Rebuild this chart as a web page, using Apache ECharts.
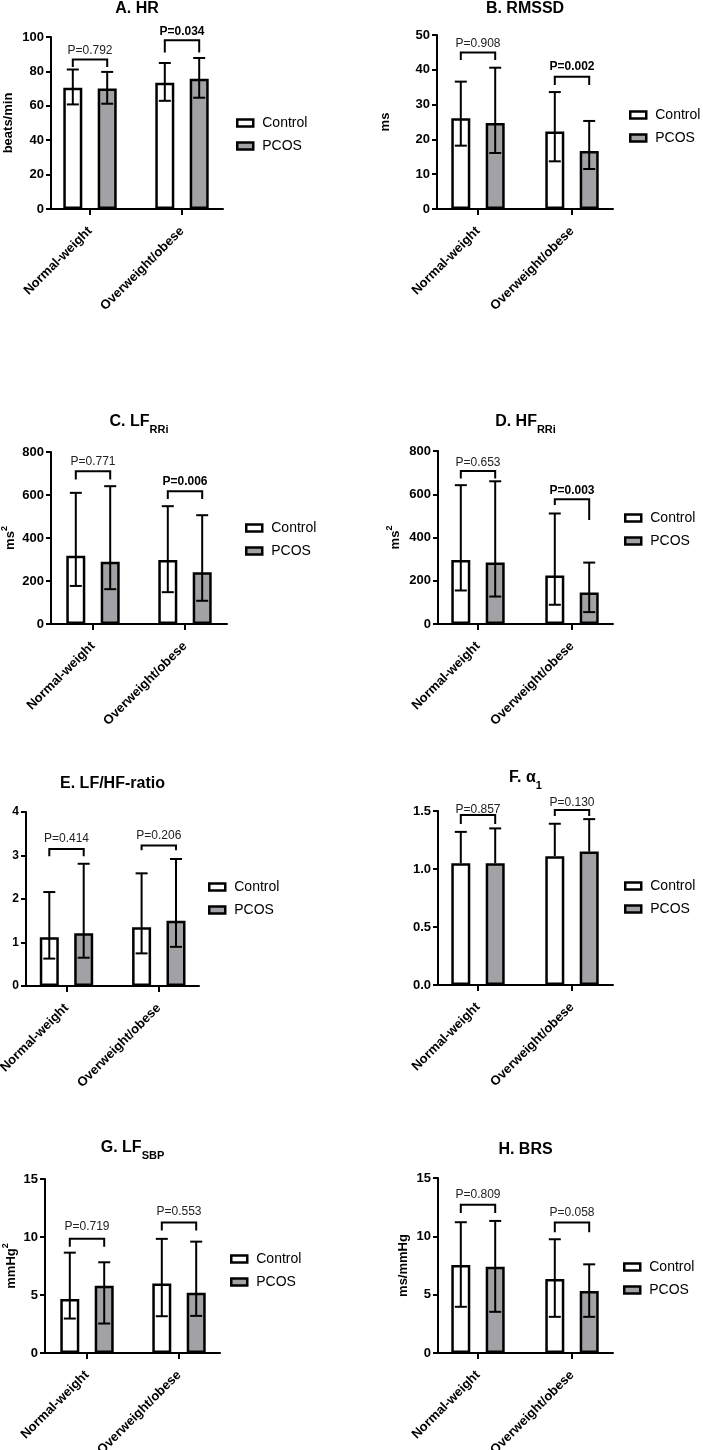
<!DOCTYPE html>
<html><head><meta charset="utf-8">
<script src="https://cdn.jsdelivr.net/npm/echarts@6/dist/echarts.min.js"></script>
<style>html,body{margin:0;padding:0;background:#fff}#c{width:703px;height:1450px}</style>
</head><body><div id="c"></div>
<script>
// ---------------- DATA ----------------
const categories = ['Normal-weight', 'Overweight/obese'];
const seriesNames = ['Control', 'PCOS'];
const panelTitles = ['{m|A. HR}', '{m|B. RMSSD}', '{m|C. LF}{s|RRi}', '{m|D. HF}{s|RRi}',
                     '{m|E. LF/HF-ratio}', '{m|F. α}{s|1}', '{m|G. LF}{s|SBP}', '{m|H. BRS}'];
const yAxisNames = ['beats/min', 'ms', '{b|ms}{p|2}', '{b|ms}{p|2}', '', '', '{b|mmHg}{p|2}', 'ms/mmHg'];
const yMax = [100, 50, 800, 800, 4, 1.5, 15, 15];
const yInterval = [20, 10, 200, 200, 1, 0.5, 5, 5];
const yDecimals = [0, 0, 0, 0, 0, 1, 0, 0];

// bar heights per panel: [Normal-weight, Overweight/obese]
const controlMean = [[70.5, 73.4], [26.1, 22.3], [317, 298], [296, 224], [1.12, 1.35], [1.05, 1.11], [4.65, 6.0], [7.54, 6.34]];
const controlHigh = [[81.1, 84.9], [36.6, 33.6], [610, 548], [642, 511], [2.16, 2.59], [1.32, 1.39], [8.65, 9.84], [11.21, 9.75]];
const controlLow  = [[60.8, 62.9], [18.2, 13.7], [177, 148], [155, 89], [0.63, 0.75], [null, null], [2.97, 3.17], [3.96, 3.10]];
const pcosMean    = [[70.1, 75.7], [24.7, 16.7], [290, 241], [284, 146], [1.21, 1.50], [1.05, 1.15], [5.80, 5.19], [7.40, 5.31]];
const pcosHigh    = [[79.7, 87.8], [40.6, 25.3], [641, 506], [660, 284], [2.81, 2.92], [1.35, 1.43], [7.82, 9.60], [11.32, 7.60]];
const pcosLow     = [[61.2, 64.7], [16.1, 11.5], [162, 108], [127, 55], [0.65, 0.90], [null, null], [2.54, 3.20], [3.53, 3.10]];

// significance annotations
const pLabels = [['P=0.792', 'P=0.034'], ['P=0.908', 'P=0.002'], ['P=0.771', 'P=0.006'], ['P=0.653', 'P=0.003'],
                 ['P=0.414', 'P=0.206'], ['P=0.857', 'P=0.130'], ['P=0.719', 'P=0.553'], ['P=0.809', 'P=0.058']];
const pBold = [[false, true], [false, true], [false, true], [false, true], [false, false], [false, false], [false, false], [false, false]];
const bracketTop  = [[86.9, 98.1], [45.0, 38.0], [710, 618], [708, 577], [3.15, 3.23], [1.466, 1.509], [9.84, 11.25], [12.70, 11.18]];
const bracketLegL = [[82.6, 91.0], [42.8, 35.6], [672, 581], [673, 550], [2.98, 3.12], [1.388, 1.457], [9.17, 10.55], [11.99, 10.35]];
const bracketLegR = [[82.6, 91.0], [42.8, 35.6], [672, 581], [673, 481], [2.98, 3.12], [1.388, 1.457], [9.17, 10.55], [11.99, 10.35]];
const pLabelY     = [[91.9, 102.9], [47.4, 40.9], [757, 664], [746, 616], [3.39, 3.46], [1.515, 1.572], [10.85, 12.15], [13.56, 12.04]];

// ---------------- LAYOUT (pixels) ----------------
const layout = [
  {ax: 51,  end: 223, top: 37,   zero: 209,  c1: 90,   c2: 182,   ty: 9,    lx: 236, ly: 116,  gap: 36, lf: 13},
  {ax: 437, end: 613, top: 35,   zero: 209,  c1: 478,  c2: 572,   ty: 9,    lx: 629, ly: 108,  gap: 45, lf: 13},
  {ax: 51,  end: 227, top: 452,  zero: 624,  c1: 93,   c2: 185,   ty: 422,  lx: 245, ly: 521,  gap: 34, lf: 13},
  {ax: 438, end: 613, top: 451,  zero: 624,  c1: 478,  c2: 572,   ty: 422,  lx: 624, ly: 511,  gap: 36, lf: 13},
  {ax: 26,  end: 199, top: 812,  zero: 986,  c1: 66.5, c2: 158.8, ty: 784,  lx: 208, ly: 880,  gap: 30, lf: 12},
  {ax: 438, end: 613, top: 811,  zero: 985,  c1: 478,  c2: 572,   ty: 778,  lx: 624, ly: 879,  gap: 30, lf: 13},
  {ax: 45,  end: 220, top: 1179, zero: 1353, c1: 87,   c2: 179,   ty: 1148, lx: 230, ly: 1252, gap: 27, lf: 13},
  {ax: 438, end: 613, top: 1178, zero: 1353, c1: 478,  c2: 572,   ty: 1150, lx: 623, ly: 1260, gap: 28, lf: 13}
];
const FONT = '"Liberation Sans", Arial, Helvetica, sans-serif';
const BW = 19;          // bar width
const D = 17.2;         // bar centre offset from group centre
const CAP = 12;         // error bar cap width
const BARGAP = ((2 * D - BW) / BW * 100).toFixed(1) + '%';
const GREY = '#a2a2a6';

const option = {animation: false, backgroundColor: '#fff', grid: [], xAxis: [], yAxis: [], series: [], legend: [], graphic: []};

layout.forEach((L, i) => {
  const band = L.c2 - L.c1;
  const gA = 2 * i, gB = 2 * i + 1;
  const h = L.zero - L.top;
  option.grid.push({left: L.ax, top: L.top, width: L.end - L.ax, height: h, outerBoundsMode: 'none'});
  option.grid.push({left: L.c1 - band / 2, top: L.top, width: 2 * band, height: h, outerBoundsMode: 'none'});

  option.xAxis.push({gridIndex: gA, type: 'value', min: 0, max: 1,
    axisLine: {show: true, lineStyle: {color: '#000', width: 2}}, axisTick: {show: false},
    axisLabel: {show: false}, splitLine: {show: false}});
  option.xAxis.push({gridIndex: gB, type: 'category', data: categories,
    axisLine: {show: false},
    axisTick: {show: true, alignWithLabel: true, length: 6, lineStyle: {color: '#000', width: 2}},
    axisLabel: {interval: 0, rotate: 45, margin: 20, fontSize: 13, fontWeight: 'bold', color: '#000', fontFamily: FONT},
    splitLine: {show: false}});

  const dec = yDecimals[i];
  option.yAxis.push({gridIndex: gA, type: 'value', min: 0, max: yMax[i], interval: yInterval[i],
    axisLine: {show: true, lineStyle: {color: '#000', width: 2}},
    axisTick: {show: true, length: 5, lineStyle: {color: '#000', width: 2}},
    axisLabel: {margin: 7, fontSize: L.lf, fontWeight: 'bold', color: '#000', fontFamily: FONT,
      formatter: v => v.toFixed(dec)},
    splitLine: {show: false},
    name: yAxisNames[i], nameLocation: 'middle', nameGap: L.gap, nameRotate: 90,
    nameTextStyle: {fontSize: 13, fontWeight: 'bold', color: '#000', fontFamily: FONT,
      rich: {b: {fontSize: 13, fontWeight: 'bold', color: '#000', fontFamily: FONT, padding: [4, 0, 0, 0], verticalAlign: 'top'},
             p: {fontSize: 9, fontWeight: 'bold', color: '#000', fontFamily: FONT, verticalAlign: 'top'}}}});
  option.yAxis.push({gridIndex: gB, type: 'value', min: 0, max: yMax[i], show: false});

  option.series.push({type: 'bar', name: seriesNames[0], xAxisIndex: gB, yAxisIndex: gB, data: controlMean[i],
    barWidth: BW, barGap: BARGAP, itemStyle: {color: '#fff', borderColor: '#000', borderWidth: 2.5}, z: 2, silent: true});
  option.series.push({type: 'bar', name: seriesNames[1], xAxisIndex: gB, yAxisIndex: gB, data: pcosMean[i],
    barWidth: BW, barGap: BARGAP, itemStyle: {color: GREY, borderColor: '#000', borderWidth: 2.5}, z: 2, silent: true});

  // error bars
  const err = [];
  for (let c = 0; c < 2; c++) {
    err.push([c, controlMean[i][c], controlLow[i][c] ?? controlMean[i][c], controlHigh[i][c], 0]);
    err.push([c, pcosMean[i][c], pcosLow[i][c] ?? pcosMean[i][c], pcosHigh[i][c], 1]);
  }
  option.series.push({type: 'custom', xAxisIndex: gB, yAxisIndex: gB, data: err, z: 5, silent: true, clip: false,
    encode: {x: 0, y: [1, 2, 3]},
    renderItem: (params, api) => {
      const c = api.value(0), m = api.value(1), lo = api.value(2), hi = api.value(3), g = api.value(4);
      const x = api.coord([c, hi])[0] + (g ? D : -D);
      const yH = api.coord([c, hi])[1], yL = api.coord([c, lo])[1];
      const st = {stroke: '#000', lineWidth: 2};
      const ch = [
        {type: 'line', shape: {x1: x, y1: yL, x2: x, y2: yH}, style: st},
        {type: 'line', shape: {x1: x - CAP / 2, y1: yH, x2: x + CAP / 2, y2: yH}, style: st}
      ];
      if (lo < m) ch.push({type: 'line', shape: {x1: x - CAP / 2, y1: yL, x2: x + CAP / 2, y2: yL}, style: st});
      return {type: 'group', children: ch};
    }});

  // brackets
  const br = [];
  for (let c = 0; c < 2; c++) br.push([c, bracketTop[i][c], bracketLegL[i][c], bracketLegR[i][c], pLabelY[i][c]]);
  option.series.push({type: 'custom', xAxisIndex: gB, yAxisIndex: gB, data: br, z: 6, silent: true, clip: false,
    encode: {x: 0, y: [1, 2, 3, 4]},
    renderItem: (params, api) => {
      const c = api.value(0);
      const cx = api.coord([c, 0])[0];
      const xL = cx - D, xR = cx + D;
      const yT = api.coord([c, api.value(1)])[1];
      const yl = api.coord([c, api.value(2)])[1];
      const yr = api.coord([c, api.value(3)])[1];
      const yTxt = api.coord([c, api.value(4)])[1];
      const bold = pBold[i][c];
      return {type: 'group', children: [
        {type: 'polyline', shape: {points: [[xL, yl], [xL, yT], [xR, yT], [xR, yr]]},
          style: {stroke: '#000', lineWidth: 2, fill: null}},
        {type: 'text', x: cx, y: yTxt,
          style: {text: pLabels[i][c], fill: bold ? '#000' : '#222', align: 'center', verticalAlign: 'middle',
            textAlign: 'center', textVerticalAlign: 'middle',
            font: (bold ? 'bold ' : '') + '12px ' + FONT}}
      ]};
    }});

  option.legend.push({orient: 'vertical', left: L.lx, top: L.ly, padding: 0, itemWidth: 16, itemHeight: 7, itemGap: 9,
    icon: 'rect', data: seriesNames, selectedMode: false,
    itemStyle: {borderColor: '#000', borderWidth: 2.5},
    textStyle: {fontSize: 14, color: '#000', fontFamily: FONT, padding: [0, 0, 0, 4]}});

  option.graphic.push({type: 'text', x: (L.ax + L.end) / 2, y: L.ty - 8, silent: true,
    style: {text: panelTitles[i], align: 'center', verticalAlign: 'top', fill: '#000',
      font: 'bold 16px ' + FONT,
      rich: {m: {fontSize: 16, fontWeight: 'bold', fontFamily: FONT, fill: '#000', color: '#000', padding: [0, 0, 5, 0], verticalAlign: 'bottom'},
             s: {fontSize: 11, fontWeight: 'bold', fontFamily: FONT, fill: '#000', color: '#000', verticalAlign: 'bottom'}}}});
});

const chart = echarts.init(document.getElementById('c'), null, {renderer: 'canvas'});
chart.setOption(option);
</script>
</body></html>
